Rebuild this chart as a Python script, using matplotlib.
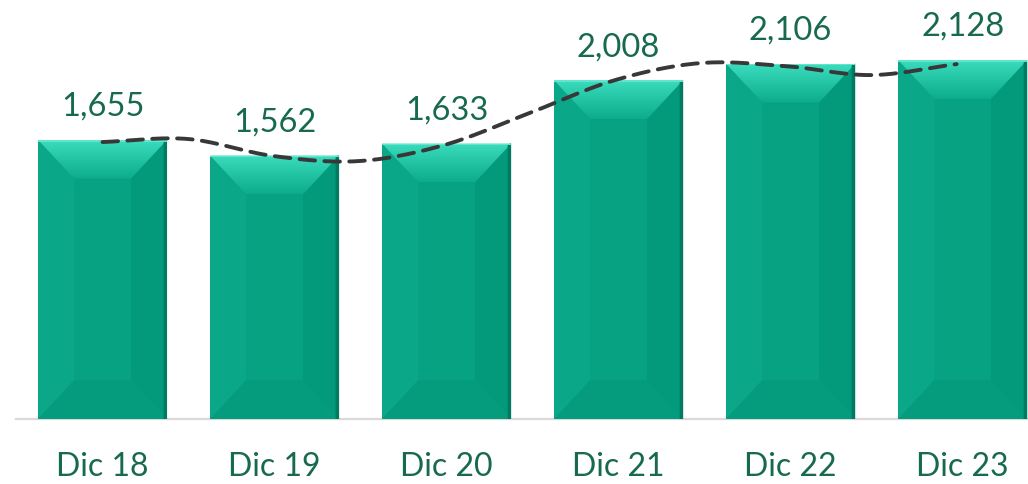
import numpy as np
import matplotlib
matplotlib.use("Agg")
import matplotlib.pyplot as plt
from matplotlib.patches import Polygon
from matplotlib.colors import LinearSegmentedColormap

categories = ["Dic 18", "Dic 19", "Dic 20", "Dic 21", "Dic 22", "Dic 23"]
values = [1655, 1562, 1633, 2008, 2106, 2128]
labels = ["1,655", "1,562", "1,633", "2,008", "2,106", "2,128"]
# dashed smoothed trend read at half-category steps
trend = [1642, 1660, 1559, 1529, 1624, 1814, 2009, 2110, 2092, 2039, 2104]

plt.rcParams['font.family'] = ['Lato', 'DejaVu Sans']

fig = plt.figure(figsize=(10.28, 4.84), dpi=100)
W, H = 1028, 484
ax = fig.add_axes([16 / W, 65 / H, (W - 16) / W, 419 / H])

x = np.arange(len(categories))
bw = 0.75
face = "#06A282"
bars = ax.bar(x, values, width=bw, color=face, zorder=2, linewidth=0)

top_cmap = LinearSegmentedColormap.from_list("tb", ["#0DAC8C", "#22C4A4", "#3ADCBD"])
bx = 0.21   # horizontal bevel in data units
by = 230    # vertical bevel in data units
grad = np.linspace(0, 1, 64).reshape(-1, 1)
for b in bars:
    x0 = b.get_x(); x1 = x0 + b.get_width(); h = b.get_height()
    left = Polygon([[x0, 0], [x0, h], [x0 + bx, h - by], [x0 + bx, by]],
                   closed=True, facecolor="#0AA888", edgecolor="none", zorder=3)
    right = Polygon([[x1, 0], [x1, h], [x1 - bx, h - by], [x1 - bx, by]],
                    closed=True, facecolor="#039A7B", edgecolor="none", zorder=3)
    bottom = Polygon([[x0, 0], [x1, 0], [x1 - bx, by], [x0 + bx, by]],
                     closed=True, facecolor="#049C7D", edgecolor="none", zorder=3)
    for p in (left, right, bottom):
        ax.add_patch(p)
    top = Polygon([[x0, h], [x1, h], [x1 - bx, h - by], [x0 + bx, h - by]],
                  closed=True, facecolor="none", edgecolor="none", zorder=3)
    ax.add_patch(top)
    im = ax.imshow(grad, cmap=top_cmap, extent=[x0, x1, h - by, h], origin="lower",
                   aspect="auto", zorder=3.2, interpolation="bilinear")
    im.set_clip_path(top)
    # dark right edge
    ax.add_patch(Polygon([[x1 - 0.02, 0], [x1, 0], [x1, h], [x1 - 0.02, h - 4]],
                         closed=True, facecolor="#007A60", edgecolor="none", zorder=3.5))
    ax.add_patch(Polygon([[x0, h - 10], [x1, h - 10], [x1, h], [x0, h]],
                         closed=True, facecolor="#5FE6CC", edgecolor="none", zorder=3.5))

ax.set_xlim(-0.503, 5.38)
ax.set_ylim(0, 2484)

# smoothed dashed trend line (Catmull-Rom)
tx = np.arange(len(trend)) * 0.5
ty = np.array(trend, dtype=float)
px = np.concatenate([[2 * tx[0] - tx[1]], tx, [2 * tx[-1] - tx[-2]]])
py = np.concatenate([[2 * ty[0] - ty[1]], ty, [2 * ty[-1] - ty[-2]]])
sx, sy = [], []
t = np.linspace(0, 1, 30)
for i in range(1, len(px) - 2):
    p0, p1, p2, p3 = py[i - 1], py[i], py[i + 1], py[i + 2]
    q0, q1, q2, q3 = px[i - 1], px[i], px[i + 1], px[i + 2]
    f = lambda a0, a1, a2, a3: 0.5 * ((2 * a1) + (-a0 + a2) * t +
                                      (2 * a0 - 5 * a1 + 4 * a2 - a3) * t ** 2 +
                                      (-a0 + 3 * a1 - 3 * a2 + a3) * t ** 3)
    sx.append(f(q0, q1, q2, q3)); sy.append(f(p0, p1, p2, p3))
sx = np.concatenate(sx); sy = np.concatenate(sy)
ax.plot(sx * 0.993, sy, color="#383838", lw=2.8, dashes=(4, 2.4), zorder=5,
        solid_capstyle="round", dash_capstyle="round")

for xi, v, lab in zip(x, values, labels):
    ax.annotate(lab, (xi, v), xytext=(0, 13), textcoords="offset points",
                ha="center", va="bottom", fontsize=23.5, color="#17694F", zorder=6)

ax.set_xticks(x)
ax.set_xticklabels(categories, fontsize=23, color="#17694F")
ax.tick_params(axis="x", length=0, pad=24)
ax.set_yticks([])
for s in ("top", "left", "right"):
    ax.spines[s].set_visible(False)
ax.spines["bottom"].set_color("#D9D9D9")
ax.spines["bottom"].set_linewidth(1.6)
ax.spines["bottom"].set_zorder(1)

fig.savefig("out.png", dpi=100)
